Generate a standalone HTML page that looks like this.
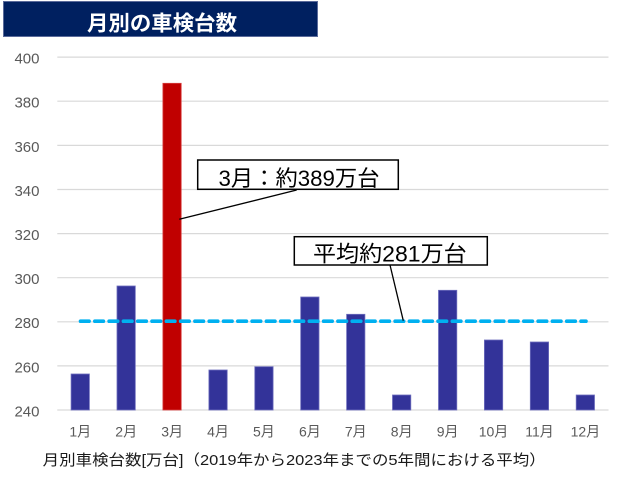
<!DOCTYPE html>
<html><head><meta charset="utf-8"><style>
html,body{margin:0;padding:0;background:#fff;}
svg{display:block;}
text{font-family:"Liberation Sans","Noto Sans CJK JP",sans-serif;}
</style></head><body>
<svg width="624" height="479" viewBox="0 0 624 479" xmlns="http://www.w3.org/2000/svg">
<rect x="0" y="0" width="624" height="479" fill="#fff"/>
<!-- title -->
<rect x="3.5" y="1.5" width="314" height="35" fill="#002060" stroke="#5a6a9a" stroke-width="1"/>
<text x="87" y="30.5" font-size="21" font-weight="bold" fill="#fff" textLength="150" lengthAdjust="spacingAndGlyphs">月別の車検台数</text>
<!-- gridlines -->
<g stroke="#d9d9d9" stroke-width="1.2">
<line x1="57.3" y1="57.1" x2="608.5" y2="57.1"/>
<line x1="57.3" y1="101.2" x2="608.5" y2="101.2"/>
<line x1="57.3" y1="145.4" x2="608.5" y2="145.4"/>
<line x1="57.3" y1="189.5" x2="608.5" y2="189.5"/>
<line x1="57.3" y1="233.6" x2="608.5" y2="233.6"/>
<line x1="57.3" y1="277.7" x2="608.5" y2="277.7"/>
<line x1="57.3" y1="321.8" x2="608.5" y2="321.8"/>
<line x1="57.3" y1="365.9" x2="608.5" y2="365.9"/>
<line x1="57.3" y1="410" x2="608.5" y2="410"/>
</g>
<!-- y labels -->
<g font-size="15" fill="#595959" text-anchor="end">
<text x="39.5" y="63.5">400</text>
<text x="39.5" y="107.6">380</text>
<text x="39.5" y="151.8">360</text>
<text x="39.5" y="195.9">340</text>
<text x="39.5" y="240">320</text>
<text x="39.5" y="284.1">300</text>
<text x="39.5" y="328.2">280</text>
<text x="39.5" y="372.3">260</text>
<text x="39.5" y="416.4">240</text>
</g>
<!-- bars -->
<g fill="#333399" stroke="#6e6ebd" stroke-width="0.8">
<rect x="71.1" y="374" width="18.3" height="36"/>
<rect x="117.0" y="286" width="18.3" height="124"/>
<rect x="208.9" y="370" width="18.3" height="40"/>
<rect x="254.8" y="366.7" width="18.3" height="43.3"/>
<rect x="300.7" y="297" width="18.3" height="113"/>
<rect x="346.6" y="314.3" width="18.3" height="95.7"/>
<rect x="392.5" y="395" width="18.3" height="15"/>
<rect x="438.5" y="290.3" width="18.3" height="119.7"/>
<rect x="484.4" y="340" width="18.3" height="70"/>
<rect x="530.3" y="342" width="18.3" height="68"/>
<rect x="576.2" y="395" width="18.3" height="15"/>
</g>
<rect x="162.9" y="83.3" width="18.3" height="326.7" fill="#c00000" stroke="#d84040" stroke-width="0.8"/>
<!-- average dashed line -->
<line x1="80.5" y1="321.2" x2="586" y2="321.2" stroke="#00b0f0" stroke-width="3.6" stroke-dasharray="8.6 5.7" stroke-linecap="round"/>
<!-- callouts -->
<line x1="296.7" y1="190" x2="179.3" y2="219.3" stroke="#000" stroke-width="1.3"/>
<line x1="390" y1="265" x2="403.3" y2="320.7" stroke="#000" stroke-width="1.3"/>
<rect x="197.7" y="160" width="200.6" height="29.3" fill="#fff" stroke="#000" stroke-width="1.5"/>
<text x="218.5" y="186" font-size="22" fill="#000" textLength="161" lengthAdjust="spacingAndGlyphs">3月：約389万台</text>
<rect x="294.3" y="236.7" width="193" height="28.3" fill="#fff" stroke="#000" stroke-width="1.5"/>
<text x="313" y="261.3" font-size="22" fill="#000" textLength="153.7" lengthAdjust="spacingAndGlyphs">平均約281万台</text>
<!-- x labels -->
<g font-size="14" fill="#595959" text-anchor="middle">
<text x="80.3" y="436.5">1月</text>
<text x="126.2" y="436.5">2月</text>
<text x="172.1" y="436.5">3月</text>
<text x="218.0" y="436.5">4月</text>
<text x="263.9" y="436.5">5月</text>
<text x="309.9" y="436.5">6月</text>
<text x="355.8" y="436.5">7月</text>
<text x="401.7" y="436.5">8月</text>
<text x="447.6" y="436.5">9月</text>
<text x="493.5" y="436.5">10月</text>
<text x="539.5" y="436.5">11月</text>
<text x="585.4" y="436.5">12月</text>
</g>
<!-- footer -->
<text x="42.7" y="465" font-size="15" fill="#1a1a1a" textLength="503" lengthAdjust="spacingAndGlyphs">月別車検台数[万台]（2019年から2023年までの5年間における平均）</text>
</svg>
</body></html>
